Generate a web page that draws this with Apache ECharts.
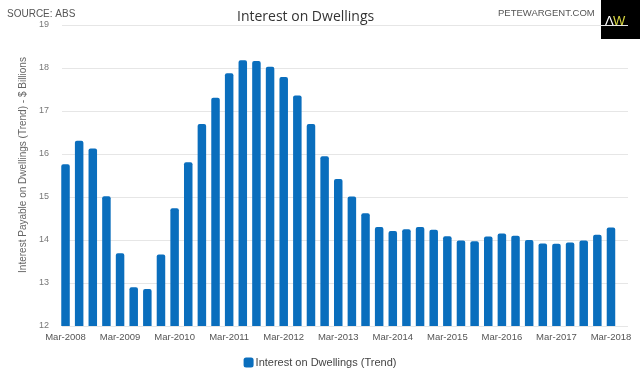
<!DOCTYPE html>
<html>
<head>
<meta charset="utf-8">
<script src="https://cdn.jsdelivr.net/npm/echarts@6/dist/echarts.min.js"></script>
<style>html,body{margin:0;padding:0;background:#fff}#c{width:640px;height:374px}</style>
</head>
<body>
<div id="c"></div>
<script>
var categories = (function(){
  var out = [], q = ['Mar','Jun','Sep','Dec'];
  for (var y = 2008; y <= 2018; y++) {
    for (var i = 0; i < 4; i++) {
      if (y === 2018 && i > 0) break;
      out.push(q[i] + '-' + y);
    }
  }
  return out;
})();
var values = [
  15.76, 16.31, 16.13, 15.02, 13.69, 12.90, 12.86, 13.66, 14.74, 15.81,
  16.70, 17.31, 17.88, 18.18, 18.16, 18.03, 17.79, 17.36, 16.70, 15.95,
  15.42, 15.01, 14.62, 14.30, 14.21, 14.25, 14.30, 14.24, 14.09, 13.99,
  13.97, 14.08, 14.15, 14.10, 14.00, 13.92, 13.91, 13.94, 13.99, 14.12,
  14.29
];
var yTicks = {min: 12, max: 19, interval: 1};
var seriesName = 'Interest on Dwellings (Trend)';

var chart = echarts.init(document.getElementById('c'));
var font = 'Liberation Sans, Arial, sans-serif';
chart.setOption({
  animation: false,
  backgroundColor: '#fff',
  title: {
    text: 'Interest on Dwellings',
    left: 232, top: 5,
    textStyle: {fontFamily: 'Open Sans, sans-serif', fontSize: 14, fontWeight: 'normal', color: '#333'}
  },
  legend: {
    data: [seriesName],
    left: 'center', top: 352,
    icon: 'roundRect', itemWidth: 10, itemHeight: 10, itemGap: 2,
    textStyle: {fontFamily: font, fontSize: 11, color: '#444', padding: [0,0,0,-3]}
  },
  graphic: [
    {type: 'text', left: 7, top: 9, style: {text: 'SOURCE: ABS', fontFamily: font, fontSize: 10, fill: '#555'}},
    {type: 'text', left: 498, top: 8, style: {text: 'PETEWARGENT.COM', fontFamily: font, fontSize: 9.5, fill: '#555'}},
    {type: 'rect', left: 601, top: 0, shape: {width: 39, height: 39}, style: {fill: '#000'}},
    {type: 'text', left: 605, top: 15, style: {text: 'Λ', fontFamily: font, fontSize: 13, fill: '#fff'}},
    {type: 'text', left: 613, top: 15, style: {text: 'W', fontFamily: font, fontSize: 13, fill: '#d8d640'}},
    {type: 'text', x: 23, y: 165, rotation: Math.PI / 2,
     style: {text: 'Interest Payable on Dwellings (Trend) - $ Billions', fontFamily: font, fontSize: 10, fill: '#666', align: 'center', verticalAlign: 'middle'}}
  ],
  grid: [
    {left: 62, right: 12, top: 25, bottom: 48},
    {left: 58.7, right: 22.2, top: 25, bottom: 48}
  ],
  xAxis: [
    {gridIndex: 0, type: 'value', min: 0, max: 1, show: false},
    {gridIndex: 1, type: 'category', data: categories, boundaryGap: true,
     axisLine: {show: false}, axisTick: {show: false}, splitLine: {show: false},
     axisLabel: {interval: 3, margin: 6, fontFamily: font, fontSize: 9.5, color: '#555'}}
  ],
  yAxis: [
    {gridIndex: 0, type: 'value', min: yTicks.min, max: yTicks.max, interval: yTicks.interval,
     axisLine: {show: false}, axisTick: {show: false},
     axisLabel: {margin: 13, fontFamily: font, fontSize: 9, color: '#777'},
     splitLine: {lineStyle: {color: '#e6e6e6', width: 1}}},
    {gridIndex: 1, type: 'value', min: yTicks.min, max: yTicks.max, interval: yTicks.interval, show: false}
  ],
  series: [{
    name: seriesName,
    type: 'bar',
    xAxisIndex: 1, yAxisIndex: 1,
    data: values,
    barWidth: 8.5,
    clip: true,
    itemStyle: {color: '#0a6ebd', borderRadius: [2, 2, 0, 0]}
  }]
});
</script>
</body>
</html>
